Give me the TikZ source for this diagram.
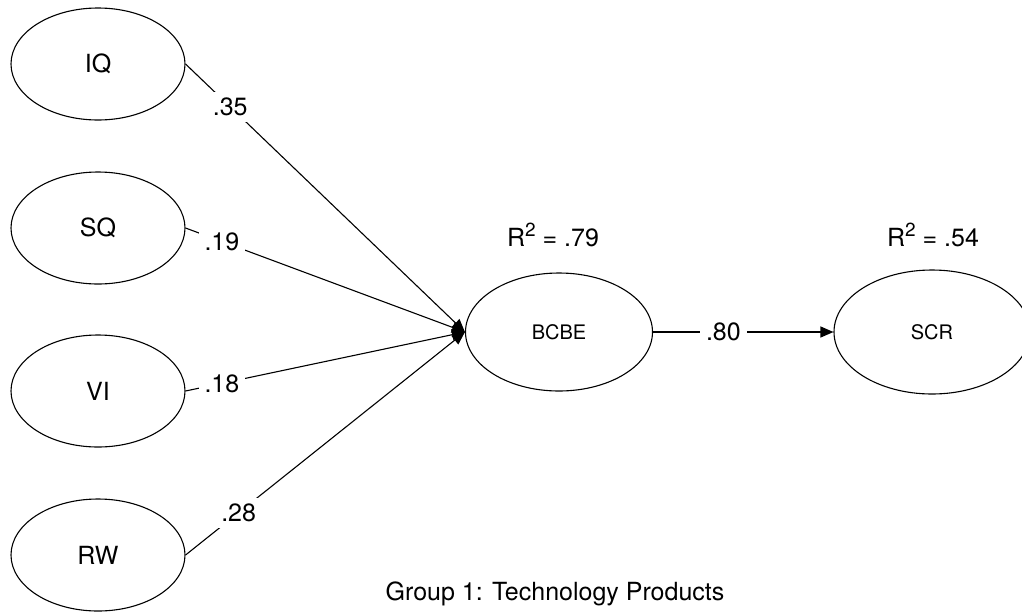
\documentclass[tikz,border=0pt]{standalone}
\usepackage{fontspec}
\setmainfont{TeX Gyre Heros}
\usetikzlibrary{shapes.geometric,arrows.meta}

\newcommand{\rcuad}[1]{R\raisebox{10pt}{\fontsize{19}{19}\selectfont 2} = #1}

\begin{document}
\begin{tikzpicture}[x=1pt, y=-1pt, >={Triangle[length=13pt,width=11pt]}, line width=1.1pt,
    latente/.style={draw, ellipse, inner sep=0pt, font=\fontsize{25}{25}\selectfont},
    coef/.style={fill=white, inner sep=6pt, font=\fontsize{25}{25}\selectfont}]
    \useasboundingbox (0,0) rectangle (1022,611);

    % Constructos exogenos
    \node[latente, minimum width=174pt, minimum height=112pt] (iq) at (98,64) {IQ};
    \node[latente, minimum width=174pt, minimum height=112pt] (sq) at (98,228) {SQ};
    \node[latente, minimum width=174pt, minimum height=112pt] (vi) at (98,391) {VI};
    \node[latente, minimum width=174pt, minimum height=112pt] (rw) at (98,555) {RW};

    % Constructos endogenos
    \node[latente, minimum width=187pt, minimum height=118pt, font=\fontsize{20}{20}\selectfont] (bcbe) at (559,332) {BCBE};
    \node[latente, minimum width=196pt, minimum height=124pt, font=\fontsize{20}{20}\selectfont] (scr) at (932,332) {SCR};

    \node[anchor=base, font=\fontsize{25}{25}\selectfont] (r2bcbe) at (553,246) {\rcuad{.79}};
    \node[anchor=base, font=\fontsize{25}{25}\selectfont] (r2scr) at (933,246) {\rcuad{.54}};

    % Trayectorias
    \draw[->] (iq.east) -- node[coef, pos=0.16] {.35} (bcbe.west);
    \draw[->] (sq.east) -- node[coef, pos=0.13] {.19} (bcbe.west);
    \draw[->] (vi.east) -- node[coef, pos=0.13] {.18} (bcbe.west);
    \draw[->] (rw.east) -- node[coef, pos=0.19] {.28} (bcbe.west);
    \draw[->] (bcbe.east) -- node[coef, pos=0.39] {.80} (scr.west);

    % Titulo
    \node[anchor=base, font=\fontsize{25}{25}\selectfont] (titulo) at (555,600) {Group 1: Technology Products};
\end{tikzpicture}
\end{document}
